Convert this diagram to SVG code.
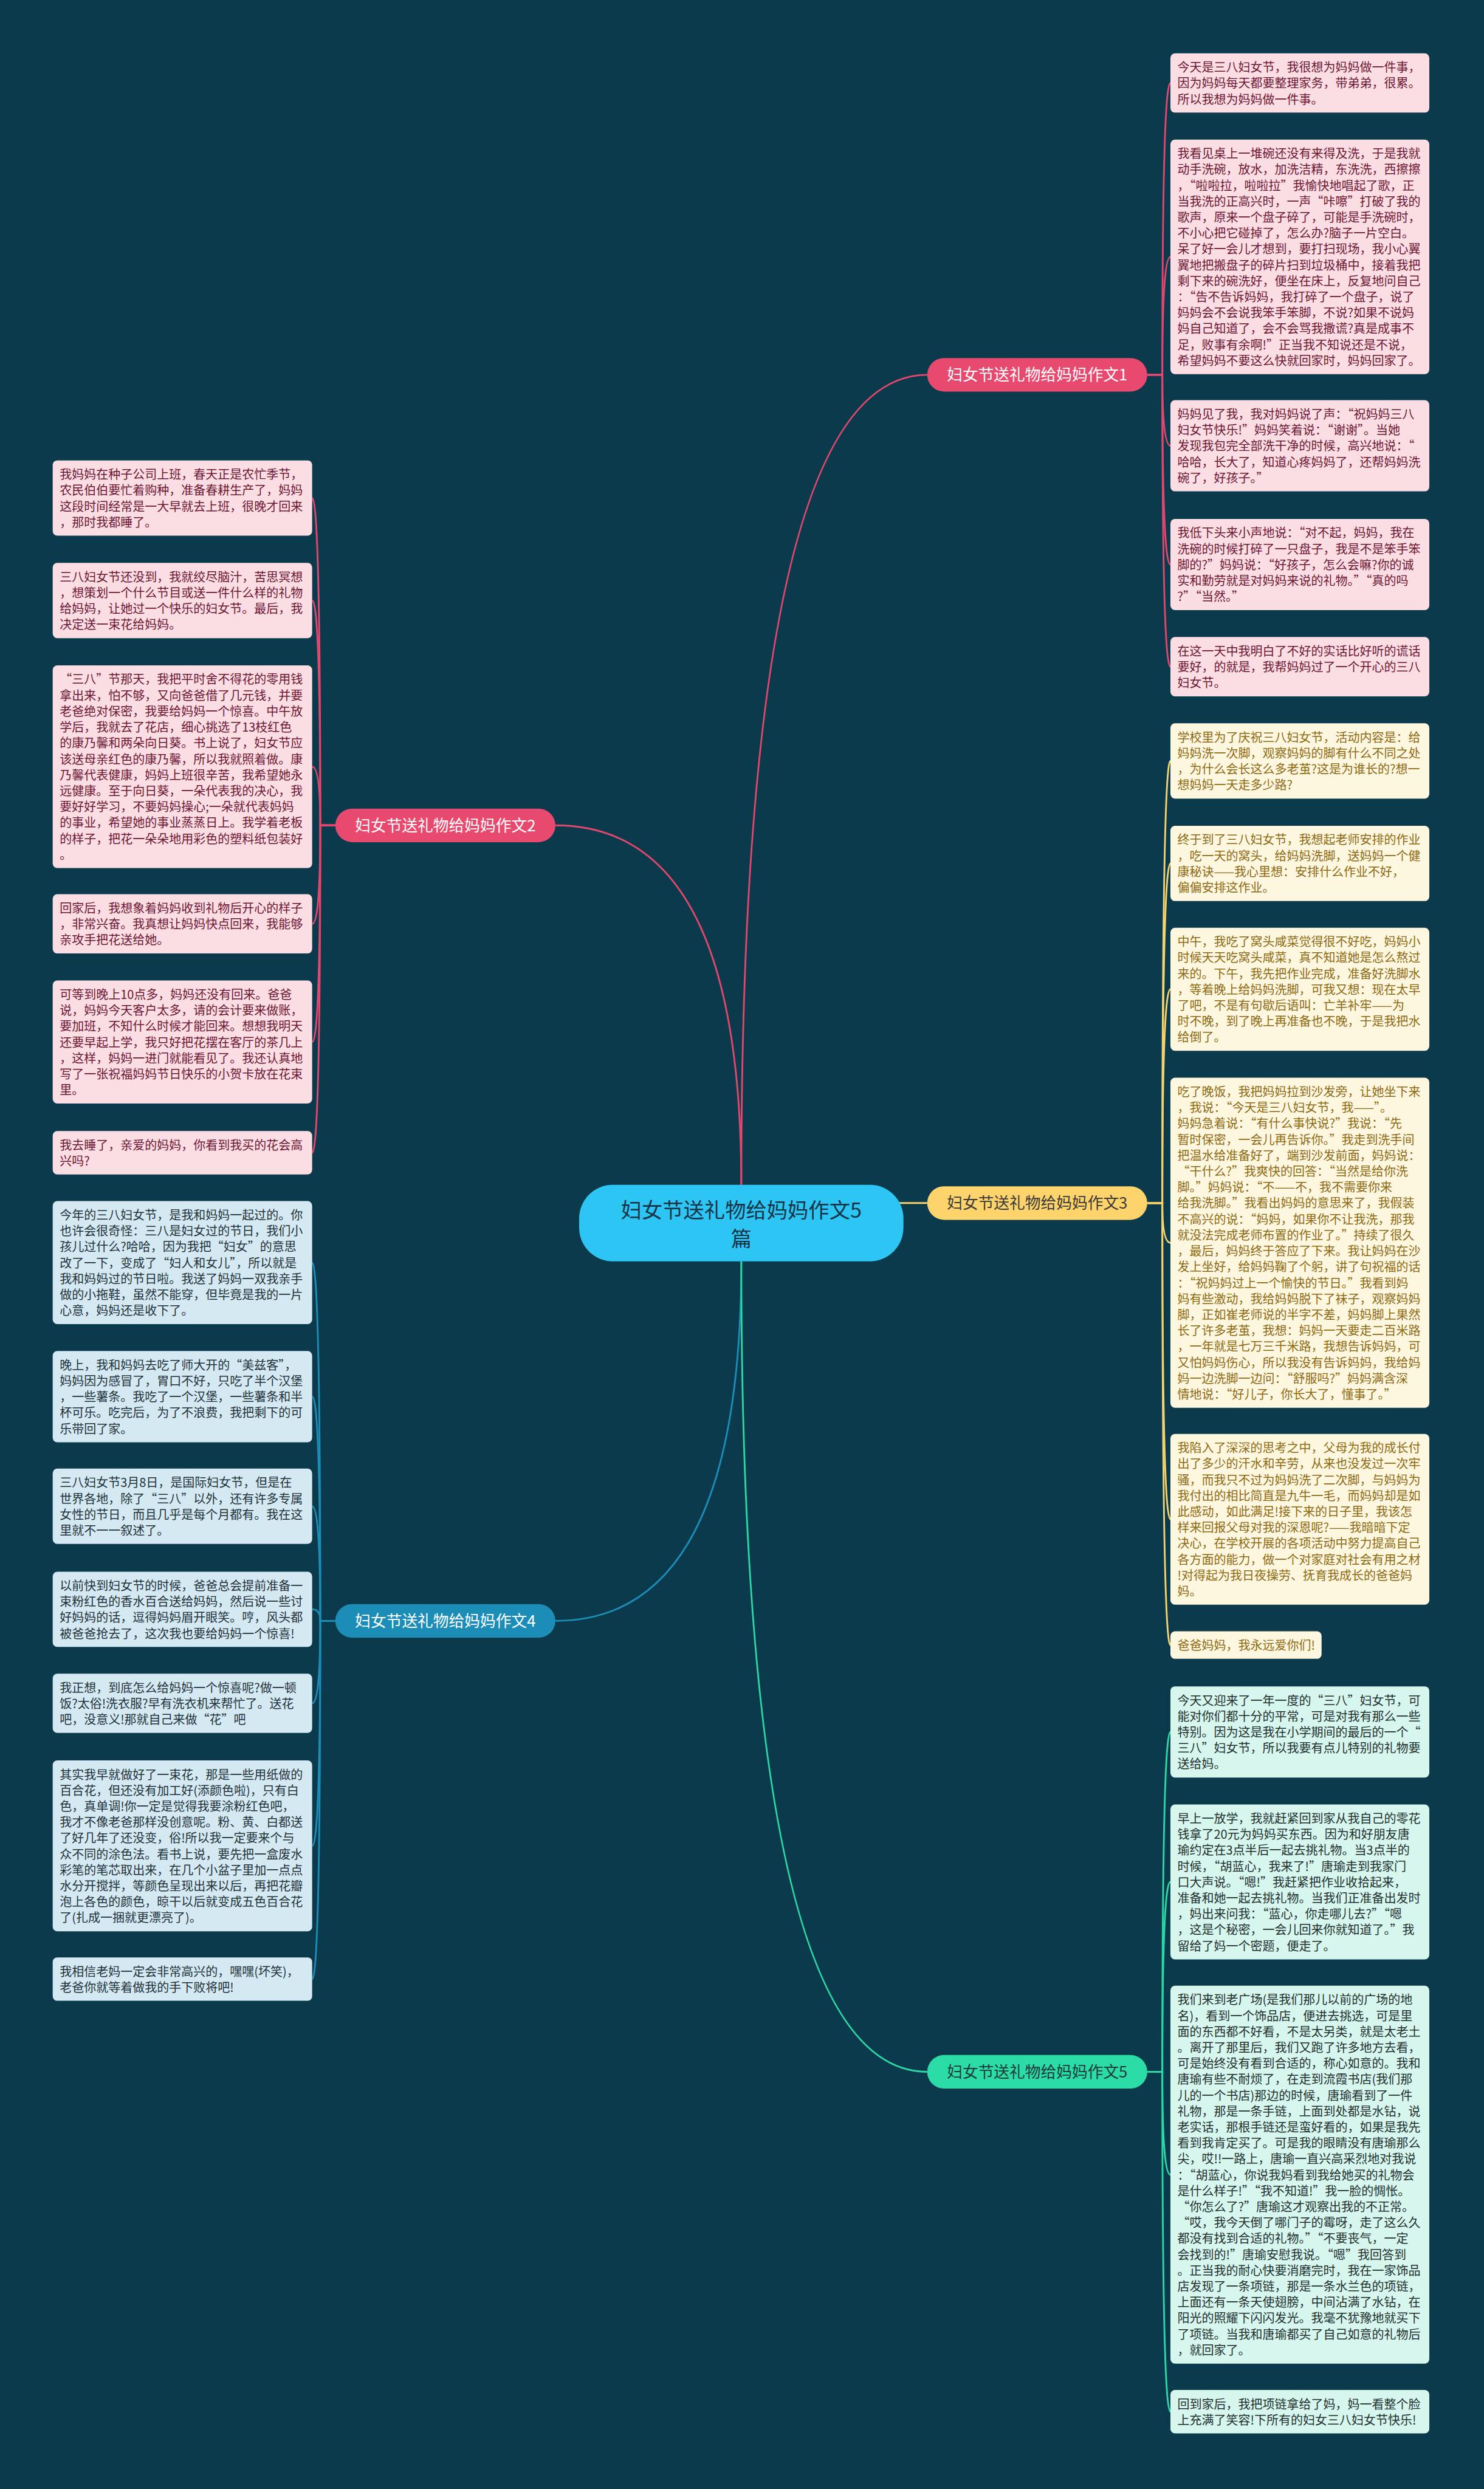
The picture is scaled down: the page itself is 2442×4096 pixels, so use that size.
<svg xmlns="http://www.w3.org/2000/svg" width="2442" height="4096" viewBox="0 0 2442 4096">
<style>
text{font-family:"Noto Sans CJK SC","Noto Sans",sans-serif;}
.bt{font-size:21px;}
.c1{stroke:#E4476D;fill:none;stroke-width:3;}
.c3{stroke:#F5D36E;fill:none;stroke-width:3;}
.c4{stroke:#1C8DB6;fill:none;stroke-width:3;}
.c5{stroke:#2CD9A5;fill:none;stroke-width:3;}
.bp{fill:#FBDDE4;}
.tp{fill:#6E1733;}
.by{fill:#FDF7DF;}
.ty{fill:#8E6A14;}
.bb{fill:#D5E9F2;}
.tb{fill:#22323A;}
.bg{fill:#D7F6EE;}
.tg{fill:#22302F;}
.lbl{font-size:27px;text-anchor:middle;}
</style>
<rect x="0" y="0" width="2442" height="4096" fill="#0A3A4C"/>
<g transform="scale(0.953)">
<g id="connectors">
<path class="c1" d="M1280 2046 Q1280 647.25 1601 647.25"/>
<path class="c1" d="M1280 2046 Q1280 1425.25 959 1425.25"/>
<path class="c3" d="M1540 2077.4 L1601 2077.4"/>
<path class="c4" d="M1280 2178 Q1280 2798.9 959 2798.9"/>
<path class="c5" d="M1280 2178 Q1280 3577.6 1601 3577.6"/>
<path class="c1" d="M1981 647.25 L2007 647.25 Q2007 143.25 2021 143.25"/>
<path class="c1" d="M1981 647.25 L2007 647.25 Q2007 443.5 2021 443.5"/>
<path class="c1" d="M1981 647.25 L2007 647.25 Q2007 769.75 2021 769.75"/>
<path class="c1" d="M1981 647.25 L2007 647.25 Q2007 974.75 2021 974.75"/>
<path class="c1" d="M1981 647.25 L2007 647.25 Q2007 1151.25 2021 1151.25"/>
<path class="c3" d="M1981 2077.4 L2007 2077.4 Q2007 1314 2021 1314"/>
<path class="c3" d="M1981 2077.4 L2007 2077.4 Q2007 1491 2021 1491"/>
<path class="c3" d="M1981 2077.4 L2007 2077.4 Q2007 1708.25 2021 1708.25"/>
<path class="c3" d="M1981 2077.4 L2007 2077.4 Q2007 2146 2021 2146"/>
<path class="c3" d="M1981 2077.4 L2007 2077.4 Q2007 2623.5 2021 2623.5"/>
<path class="c3" d="M1981 2077.4 L2007 2077.4 Q2007 2840.75 2021 2840.75"/>
<path class="c5" d="M1981 3577.6 L2007 3577.6 Q2007 2990.75 2021 2990.75"/>
<path class="c5" d="M1981 3577.6 L2007 3577.6 Q2007 3249.75 2021 3249.75"/>
<path class="c5" d="M1981 3577.6 L2007 3577.6 Q2007 3755.25 2021 3755.25"/>
<path class="c5" d="M1981 3577.6 L2007 3577.6 Q2007 4164.5 2021 4164.5"/>
<path class="c1" d="M579 1425.25 L553 1425.25 Q553 860 539 860"/>
<path class="c1" d="M579 1425.25 L553 1425.25 Q553 1037 539 1037"/>
<path class="c1" d="M579 1425.25 L553 1425.25 Q553 1324 539 1324"/>
<path class="c1" d="M579 1425.25 L553 1425.25 Q553 1595.25 539 1595.25"/>
<path class="c1" d="M579 1425.25 L553 1425.25 Q553 1799.25 539 1799.25"/>
<path class="c1" d="M579 1425.25 L553 1425.25 Q553 1990.5 539 1990.5"/>
<path class="c4" d="M579 2798.9 L553 2798.9 Q553 2180.25 539 2180.25"/>
<path class="c4" d="M579 2798.9 L553 2798.9 Q553 2411.75 539 2411.75"/>
<path class="c4" d="M579 2798.9 L553 2798.9 Q553 2601 539 2601"/>
<path class="c4" d="M579 2798.9 L553 2798.9 Q553 2779 539 2779"/>
<path class="c4" d="M579 2798.9 L553 2798.9 Q553 2941.25 539 2941.25"/>
<path class="c4" d="M579 2798.9 L553 2798.9 Q553 3187.5 539 3187.5"/>
<path class="c4" d="M579 2798.9 L553 2798.9 Q553 3417.5 539 3417.5"/>
</g>

<g id="center">
<rect x="1000" y="2046" width="560" height="132" rx="58" fill="#2DC6F4"/>
<text x="1280" y="2103" font-size="36" text-anchor="middle" fill="#173447">妇女节送礼物给妈妈作文5</text>
<text x="1280" y="2152" font-size="36" text-anchor="middle" fill="#173447">篇</text>
</g>

<g id="branch1"><rect x="1601" y="618.25" width="380" height="58" rx="29" fill="#E8496F"/><text class="lbl" x="1791" y="657.25" fill="#FFFFFF">妇女节送礼物给妈妈作文1</text></g>
<g id="branch2"><rect x="579" y="1396.25" width="380" height="58" rx="29" fill="#E8496F"/><text class="lbl" x="769" y="1435.25" fill="#FFFFFF">妇女节送礼物给妈妈作文2</text></g>
<g id="branch3"><rect x="1601" y="2048.4" width="380" height="58" rx="29" fill="#FCD46B"/><text class="lbl" x="1791" y="2087.4" fill="#3A3A3A">妇女节送礼物给妈妈作文3</text></g>
<g id="branch4"><rect x="579" y="2769.9" width="380" height="58" rx="29" fill="#1C8DB6"/><text class="lbl" x="769" y="2808.9" fill="#FFFFFF">妇女节送礼物给妈妈作文4</text></g>
<g id="branch5"><rect x="1601" y="3548.6" width="380" height="58" rx="29" fill="#2CDCA6"/><text class="lbl" x="1791" y="3587.6" fill="#1D3B3B">妇女节送礼物给妈妈作文5</text></g>

<g id="n1a"><rect class="bp" x="2021" y="92" width="447" height="102.5" rx="8"/><text class="bt tp" x="2033" y="124"><tspan x="2033">今天是三八妇女节，我很想为妈妈做一件事，</tspan><tspan x="2033" dy="27.5">因为妈妈每天都要整理家务，带弟弟，很累。</tspan><tspan x="2033" dy="27.5">所以我想为妈妈做一件事。</tspan></text></g>
<g id="n1b"><rect class="bp" x="2021" y="241" width="447" height="405" rx="8"/><text class="bt tp" x="2033" y="273"><tspan x="2033">我看见桌上一堆碗还没有来得及洗，于是我就</tspan><tspan x="2033" dy="27.5">动手洗碗，放水，加洗洁精，东洗洗，西擦擦</tspan><tspan x="2033" dy="27.5">，“啦啦拉，啦啦拉”我愉快地唱起了歌，正</tspan><tspan x="2033" dy="27.5">当我洗的正高兴时，一声“咔嚓”打破了我的</tspan><tspan x="2033" dy="27.5">歌声，原来一个盘子碎了，可能是手洗碗时，</tspan><tspan x="2033" dy="27.5">不小心把它碰掉了，怎么办?脑子一片空白。</tspan><tspan x="2033" dy="27.5">呆了好一会儿才想到，要打扫现场，我小心翼</tspan><tspan x="2033" dy="27.5">翼地把搬盘子的碎片扫到垃圾桶中，接着我把</tspan><tspan x="2033" dy="27.5">剩下来的碗洗好，便坐在床上，反复地问自己</tspan><tspan x="2033" dy="27.5">：“告不告诉妈妈，我打碎了一个盘子，说了</tspan><tspan x="2033" dy="27.5">妈妈会不会说我笨手笨脚，不说?如果不说妈</tspan><tspan x="2033" dy="27.5">妈自己知道了，会不会骂我撒谎?真是成事不</tspan><tspan x="2033" dy="27.5">足，败事有余啊!”正当我不知说还是不说，</tspan><tspan x="2033" dy="27.5">希望妈妈不要这么快就回家时，妈妈回家了。</tspan></text></g>
<g id="n1c"><rect class="bp" x="2021" y="691" width="447" height="157.5" rx="8"/><text class="bt tp" x="2033" y="723"><tspan x="2033">妈妈见了我，我对妈妈说了声：“祝妈妈三八</tspan><tspan x="2033" dy="27.5">妇女节快乐!”妈妈笑着说：“谢谢”。当她</tspan><tspan x="2033" dy="27.5">发现我包完全部洗干净的时候，高兴地说：“</tspan><tspan x="2033" dy="27.5">哈哈，长大了，知道心疼妈妈了，还帮妈妈洗</tspan><tspan x="2033" dy="27.5">碗了，好孩子。”</tspan></text></g>
<g id="n1d"><rect class="bp" x="2021" y="896" width="447" height="157.5" rx="8"/><text class="bt tp" x="2033" y="928"><tspan x="2033">我低下头来小声地说：“对不起，妈妈，我在</tspan><tspan x="2033" dy="27.5">洗碗的时候打碎了一只盘子，我是不是笨手笨</tspan><tspan x="2033" dy="27.5">脚的?”妈妈说：“好孩子，怎么会嘛?你的诚</tspan><tspan x="2033" dy="27.5">实和勤劳就是对妈妈来说的礼物。”“真的吗</tspan><tspan x="2033" dy="27.5">?”“当然。”</tspan></text></g>
<g id="n1e"><rect class="bp" x="2021" y="1100" width="447" height="102.5" rx="8"/><text class="bt tp" x="2033" y="1132"><tspan x="2033">在这一天中我明白了不好的实话比好听的谎话</tspan><tspan x="2033" dy="27.5">要好，的就是，我帮妈妈过了一个开心的三八</tspan><tspan x="2033" dy="27.5">妇女节。</tspan></text></g>

<g id="n3a"><rect class="by" x="2021" y="1249" width="447" height="130" rx="8"/><text class="bt ty" x="2033" y="1281"><tspan x="2033">学校里为了庆祝三八妇女节，活动内容是：给</tspan><tspan x="2033" dy="27.5">妈妈洗一次脚，观察妈妈的脚有什么不同之处</tspan><tspan x="2033" dy="27.5">，为什么会长这么多老茧?这是为谁长的?想一</tspan><tspan x="2033" dy="27.5">想妈妈一天走多少路?</tspan></text></g>
<g id="n3b"><rect class="by" x="2021" y="1426" width="447" height="130" rx="8"/><text class="bt ty" x="2033" y="1458"><tspan x="2033">终于到了三八妇女节，我想起老师安排的作业</tspan><tspan x="2033" dy="27.5">，吃一天的窝头，给妈妈洗脚，送妈妈一个健</tspan><tspan x="2033" dy="27.5">康秘诀——我心里想：安排什么作业不好，</tspan><tspan x="2033" dy="27.5">偏偏安排这作业。</tspan></text></g>
<g id="n3c"><rect class="by" x="2021" y="1602" width="447" height="212.5" rx="8"/><text class="bt ty" x="2033" y="1634"><tspan x="2033">中午，我吃了窝头咸菜觉得很不好吃，妈妈小</tspan><tspan x="2033" dy="27.5">时候天天吃窝头咸菜，真不知道她是怎么熬过</tspan><tspan x="2033" dy="27.5">来的。下午，我先把作业完成，准备好洗脚水</tspan><tspan x="2033" dy="27.5">，等着晚上给妈妈洗脚，可我又想：现在太早</tspan><tspan x="2033" dy="27.5">了吧，不是有句歇后语叫：亡羊补牢——为</tspan><tspan x="2033" dy="27.5">时不晚，到了晚上再准备也不晚，于是我把水</tspan><tspan x="2033" dy="27.5">给倒了。</tspan></text></g>
<g id="n3d"><rect class="by" x="2021" y="1861" width="447" height="570" rx="8"/><text class="bt ty" x="2033" y="1893"><tspan x="2033">吃了晚饭，我把妈妈拉到沙发旁，让她坐下来</tspan><tspan x="2033" dy="27.5">，我说：“今天是三八妇女节，我——”。</tspan><tspan x="2033" dy="27.5">妈妈急着说：“有什么事快说?”我说：“先</tspan><tspan x="2033" dy="27.5">暂时保密，一会儿再告诉你。”我走到洗手间</tspan><tspan x="2033" dy="27.5">把温水给准备好了，端到沙发前面，妈妈说：</tspan><tspan x="2033" dy="27.5">“干什么?”我爽快的回答：“当然是给你洗</tspan><tspan x="2033" dy="27.5">脚。”妈妈说：“不——不，我不需要你来</tspan><tspan x="2033" dy="27.5">给我洗脚。”我看出妈妈的意思来了，我假装</tspan><tspan x="2033" dy="27.5">不高兴的说：“妈妈，如果你不让我洗，那我</tspan><tspan x="2033" dy="27.5">就没法完成老师布置的作业了。”持续了很久</tspan><tspan x="2033" dy="27.5">，最后，妈妈终于答应了下来。我让妈妈在沙</tspan><tspan x="2033" dy="27.5">发上坐好，给妈妈鞠了个躬，讲了句祝福的话</tspan><tspan x="2033" dy="27.5">：“祝妈妈过上一个愉快的节日。”我看到妈</tspan><tspan x="2033" dy="27.5">妈有些激动，我给妈妈脱下了袜子，观察妈妈</tspan><tspan x="2033" dy="27.5">脚，正如崔老师说的半字不差，妈妈脚上果然</tspan><tspan x="2033" dy="27.5">长了许多老茧，我想：妈妈一天要走二百米路</tspan><tspan x="2033" dy="27.5">，一年就是七万三千米路，我想告诉妈妈，可</tspan><tspan x="2033" dy="27.5">又怕妈妈伤心，所以我没有告诉妈妈，我给妈</tspan><tspan x="2033" dy="27.5">妈一边洗脚一边问：“舒服吗?”妈妈满含深</tspan><tspan x="2033" dy="27.5">情地说：“好儿子，你长大了，懂事了。”</tspan></text></g>
<g id="n3e"><rect class="by" x="2021" y="2476" width="447" height="295" rx="8"/><text class="bt ty" x="2033" y="2508"><tspan x="2033">我陷入了深深的思考之中，父母为我的成长付</tspan><tspan x="2033" dy="27.5">出了多少的汗水和辛劳，从来也没发过一次牢</tspan><tspan x="2033" dy="27.5">骚，而我只不过为妈妈洗了二次脚，与妈妈为</tspan><tspan x="2033" dy="27.5">我付出的相比简直是九牛一毛，而妈妈却是如</tspan><tspan x="2033" dy="27.5">此感动，如此满足!接下来的日子里，我该怎</tspan><tspan x="2033" dy="27.5">样来回报父母对我的深恩呢?——我暗暗下定</tspan><tspan x="2033" dy="27.5">决心，在学校开展的各项活动中努力提高自己</tspan><tspan x="2033" dy="27.5">各方面的能力，做一个对家庭对社会有用之材</tspan><tspan x="2033" dy="27.5">!对得起为我日夜操劳、抚育我成长的爸爸妈</tspan><tspan x="2033" dy="27.5">妈。</tspan></text></g>
<g id="n3f"><rect class="by" x="2021" y="2817" width="261" height="47.5" rx="8"/><text class="bt ty" x="2033" y="2849">爸爸妈妈，我永远爱你们!</text></g>

<g id="n5a"><rect class="bg" x="2021" y="2912" width="447" height="157.5" rx="8"/><text class="bt tg" x="2033" y="2944"><tspan x="2033">今天又迎来了一年一度的“三八”妇女节，可</tspan><tspan x="2033" dy="27.5">能对你们都十分的平常，可是对我有那么一些</tspan><tspan x="2033" dy="27.5">特别。因为这是我在小学期间的最后的一个“</tspan><tspan x="2033" dy="27.5">三八”妇女节，所以我要有点儿特别的礼物要</tspan><tspan x="2033" dy="27.5">送给妈。</tspan></text></g>
<g id="n5b"><rect class="bg" x="2021" y="3116" width="447" height="267.5" rx="8"/><text class="bt tg" x="2033" y="3148"><tspan x="2033">早上一放学，我就赶紧回到家从我自己的零花</tspan><tspan x="2033" dy="27.5">钱拿了20元为妈妈买东西。因为和好朋友唐</tspan><tspan x="2033" dy="27.5">瑜约定在3点半后一起去挑礼物。当3点半的</tspan><tspan x="2033" dy="27.5">时候，“胡蓝心，我来了!”唐瑜走到我家门</tspan><tspan x="2033" dy="27.5">口大声说。“嗯!”我赶紧把作业收拾起来，</tspan><tspan x="2033" dy="27.5">准备和她一起去挑礼物。当我们正准备出发时</tspan><tspan x="2033" dy="27.5">，妈出来问我：“蓝心，你走哪儿去?”“嗯</tspan><tspan x="2033" dy="27.5">，这是个秘密，一会儿回来你就知道了。”我</tspan><tspan x="2033" dy="27.5">留给了妈一个密题，便走了。</tspan></text></g>
<g id="n5c"><rect class="bg" x="2021" y="3429" width="447" height="652.5" rx="8"/><text class="bt tg" x="2033" y="3461"><tspan x="2033">我们来到老广场(是我们那儿以前的广场的地</tspan><tspan x="2033" dy="27.5">名)，看到一个饰品店，便进去挑选，可是里</tspan><tspan x="2033" dy="27.5">面的东西都不好看，不是太另类，就是太老土</tspan><tspan x="2033" dy="27.5">。离开了那里后，我们又跑了许多地方去看，</tspan><tspan x="2033" dy="27.5">可是始终没有看到合适的，称心如意的。我和</tspan><tspan x="2033" dy="27.5">唐瑜有些不耐烦了，在走到流霞书店(我们那</tspan><tspan x="2033" dy="27.5">儿的一个书店)那边的时候，唐瑜看到了一件</tspan><tspan x="2033" dy="27.5">礼物，那是一条手链，上面到处都是水钻，说</tspan><tspan x="2033" dy="27.5">老实话，那根手链还是蛮好看的，如果是我先</tspan><tspan x="2033" dy="27.5">看到我肯定买了。可是我的眼睛没有唐瑜那么</tspan><tspan x="2033" dy="27.5">尖，哎!!一路上，唐瑜一直兴高采烈地对我说</tspan><tspan x="2033" dy="27.5">：“胡蓝心，你说我妈看到我给她买的礼物会</tspan><tspan x="2033" dy="27.5">是什么样子!”“我不知道!”我一脸的惆怅。</tspan><tspan x="2033" dy="27.5">“你怎么了?”唐瑜这才观察出我的不正常。</tspan><tspan x="2033" dy="27.5">“哎，我今天倒了哪门子的霉呀，走了这么久</tspan><tspan x="2033" dy="27.5">都没有找到合适的礼物。”“不要丧气，一定</tspan><tspan x="2033" dy="27.5">会找到的!”唐瑜安慰我说。“嗯”我回答到</tspan><tspan x="2033" dy="27.5">。正当我的耐心快要消磨完时，我在一家饰品</tspan><tspan x="2033" dy="27.5">店发现了一条项链，那是一条水兰色的项链，</tspan><tspan x="2033" dy="27.5">上面还有一条天使翅膀，中间沾满了水钻，在</tspan><tspan x="2033" dy="27.5">阳光的照耀下闪闪发光。我毫不犹豫地就买下</tspan><tspan x="2033" dy="27.5">了项链。当我和唐瑜都买了自己如意的礼物后</tspan><tspan x="2033" dy="27.5">，就回家了。</tspan></text></g>
<g id="n5d"><rect class="bg" x="2021" y="4127" width="447" height="75" rx="8"/><text class="bt tg" x="2033" y="4159"><tspan x="2033">回到家后，我把项链拿给了妈，妈一看整个脸</tspan><tspan x="2033" dy="27.5">上充满了笑容!下所有的妇女三八妇女节快乐!</tspan></text></g>

<g id="n2a"><rect class="bp" x="91" y="795" width="448" height="130" rx="8"/><text class="bt tp" x="103" y="827"><tspan x="103">我妈妈在种子公司上班，春天正是农忙季节，</tspan><tspan x="103" dy="27.5">农民伯伯要忙着购种，准备春耕生产了，妈妈</tspan><tspan x="103" dy="27.5">这段时间经常是一大早就去上班，很晚才回来</tspan><tspan x="103" dy="27.5">，那时我都睡了。</tspan></text></g>
<g id="n2b"><rect class="bp" x="91" y="972" width="448" height="130" rx="8"/><text class="bt tp" x="103" y="1004"><tspan x="103">三八妇女节还没到，我就绞尽脑汁，苦思冥想</tspan><tspan x="103" dy="27.5">，想策划一个什么节目或送一件什么样的礼物</tspan><tspan x="103" dy="27.5">给妈妈，让她过一个快乐的妇女节。最后，我</tspan><tspan x="103" dy="27.5">决定送一束花给妈妈。</tspan></text></g>
<g id="n2c"><rect class="bp" x="91" y="1149" width="448" height="350" rx="8"/><text class="bt tp" x="103" y="1181"><tspan x="103">“三八”节那天，我把平时舍不得花的零用钱</tspan><tspan x="103" dy="27.5">拿出来，怕不够，又向爸爸借了几元钱，并要</tspan><tspan x="103" dy="27.5">老爸绝对保密，我要给妈妈一个惊喜。中午放</tspan><tspan x="103" dy="27.5">学后，我就去了花店，细心挑选了13枝红色</tspan><tspan x="103" dy="27.5">的康乃馨和两朵向日葵。书上说了，妇女节应</tspan><tspan x="103" dy="27.5">该送母亲红色的康乃馨，所以我就照着做。康</tspan><tspan x="103" dy="27.5">乃馨代表健康，妈妈上班很辛苦，我希望她永</tspan><tspan x="103" dy="27.5">远健康。至于向日葵，一朵代表我的决心，我</tspan><tspan x="103" dy="27.5">要好好学习，不要妈妈操心;一朵就代表妈妈</tspan><tspan x="103" dy="27.5">的事业，希望她的事业蒸蒸日上。我学着老板</tspan><tspan x="103" dy="27.5">的样子，把花一朵朵地用彩色的塑料纸包装好</tspan><tspan x="103" dy="27.5">。</tspan></text></g>
<g id="n2d"><rect class="bp" x="91" y="1544" width="448" height="102.5" rx="8"/><text class="bt tp" x="103" y="1576"><tspan x="103">回家后，我想象着妈妈收到礼物后开心的样子</tspan><tspan x="103" dy="27.5">，非常兴奋。我真想让妈妈快点回来，我能够</tspan><tspan x="103" dy="27.5">亲攻手把花送给她。</tspan></text></g>
<g id="n2e"><rect class="bp" x="91" y="1693" width="448" height="212.5" rx="8"/><text class="bt tp" x="103" y="1725"><tspan x="103">可等到晚上10点多，妈妈还没有回来。爸爸</tspan><tspan x="103" dy="27.5">说，妈妈今天客户太多，请的会计要来做账，</tspan><tspan x="103" dy="27.5">要加班，不知什么时候才能回来。想想我明天</tspan><tspan x="103" dy="27.5">还要早起上学，我只好把花摆在客厅的茶几上</tspan><tspan x="103" dy="27.5">，这样，妈妈一进门就能看见了。我还认真地</tspan><tspan x="103" dy="27.5">写了一张祝福妈妈节日快乐的小贺卡放在花束</tspan><tspan x="103" dy="27.5">里。</tspan></text></g>
<g id="n2f"><rect class="bp" x="91" y="1953" width="448" height="75" rx="8"/><text class="bt tp" x="103" y="1985"><tspan x="103">我去睡了，亲爱的妈妈，你看到我买的花会高</tspan><tspan x="103" dy="27.5">兴吗?</tspan></text></g>

<g id="n4a"><rect class="bb" x="91" y="2074" width="448" height="212.5" rx="8"/><text class="bt tb" x="103" y="2106"><tspan x="103">今年的三八妇女节，是我和妈妈一起过的。你</tspan><tspan x="103" dy="27.5">也许会很奇怪：三八是妇女过的节日，我们小</tspan><tspan x="103" dy="27.5">孩儿过什么?哈哈，因为我把“妇女”的意思</tspan><tspan x="103" dy="27.5">改了一下，变成了“妇人和女儿”，所以就是</tspan><tspan x="103" dy="27.5">我和妈妈过的节日啦。我送了妈妈一双我亲手</tspan><tspan x="103" dy="27.5">做的小拖鞋，虽然不能穿，但毕竟是我的一片</tspan><tspan x="103" dy="27.5">心意，妈妈还是收下了。</tspan></text></g>
<g id="n4b"><rect class="bb" x="91" y="2333" width="448" height="157.5" rx="8"/><text class="bt tb" x="103" y="2365"><tspan x="103">晚上，我和妈妈去吃了师大开的“美兹客”，</tspan><tspan x="103" dy="27.5">妈妈因为感冒了，胃口不好，只吃了半个汉堡</tspan><tspan x="103" dy="27.5">，一些薯条。我吃了一个汉堡，一些薯条和半</tspan><tspan x="103" dy="27.5">杯可乐。吃完后，为了不浪费，我把剩下的可</tspan><tspan x="103" dy="27.5">乐带回了家。</tspan></text></g>
<g id="n4c"><rect class="bb" x="91" y="2536" width="448" height="130" rx="8"/><text class="bt tb" x="103" y="2568"><tspan x="103">三八妇女节3月8日，是国际妇女节，但是在</tspan><tspan x="103" dy="27.5">世界各地，除了“三八”以外，还有许多专属</tspan><tspan x="103" dy="27.5">女性的节日，而且几乎是每个月都有。我在这</tspan><tspan x="103" dy="27.5">里就不一一叙述了。</tspan></text></g>
<g id="n4d"><rect class="bb" x="91" y="2714" width="448" height="130" rx="8"/><text class="bt tb" x="103" y="2746"><tspan x="103">以前快到妇女节的时候，爸爸总会提前准备一</tspan><tspan x="103" dy="27.5">束粉红色的香水百合送给妈妈，然后说一些讨</tspan><tspan x="103" dy="27.5">好妈妈的话，逗得妈妈眉开眼笑。哼，风头都</tspan><tspan x="103" dy="27.5">被爸爸抢去了，这次我也要给妈妈一个惊喜!</tspan></text></g>
<g id="n4e"><rect class="bb" x="91" y="2890" width="448" height="102.5" rx="8"/><text class="bt tb" x="103" y="2922"><tspan x="103">我正想，到底怎么给妈妈一个惊喜呢?做一顿</tspan><tspan x="103" dy="27.5">饭?太俗!洗衣服?早有洗衣机来帮忙了。送花</tspan><tspan x="103" dy="27.5">吧，没意义!那就自己来做“花”吧</tspan></text></g>
<g id="n4f"><rect class="bb" x="91" y="3040" width="448" height="295" rx="8"/><text class="bt tb" x="103" y="3072"><tspan x="103">其实我早就做好了一束花，那是一些用纸做的</tspan><tspan x="103" dy="27.5">百合花，但还没有加工好(添颜色啦)，只有白</tspan><tspan x="103" dy="27.5">色，真单调!你一定是觉得我要涂粉红色吧，</tspan><tspan x="103" dy="27.5">我才不像老爸那样没创意呢。粉、黄、白都送</tspan><tspan x="103" dy="27.5">了好几年了还没变，俗!所以我一定要来个与</tspan><tspan x="103" dy="27.5">众不同的涂色法。看书上说，要先把一盒废水</tspan><tspan x="103" dy="27.5">彩笔的笔芯取出来，在几个小盆子里加一点点</tspan><tspan x="103" dy="27.5">水分开搅拌，等颜色呈现出来以后，再把花瓣</tspan><tspan x="103" dy="27.5">泡上各色的颜色，晾干以后就变成五色百合花</tspan><tspan x="103" dy="27.5">了(扎成一捆就更漂亮了)。</tspan></text></g>
<g id="n4g"><rect class="bb" x="91" y="3380" width="448" height="75" rx="8"/><text class="bt tb" x="103" y="3412"><tspan x="103">我相信老妈一定会非常高兴的，嘿嘿(坏笑)，</tspan><tspan x="103" dy="27.5">老爸你就等着做我的手下败将吧!</tspan></text></g>
</g>
</svg>
